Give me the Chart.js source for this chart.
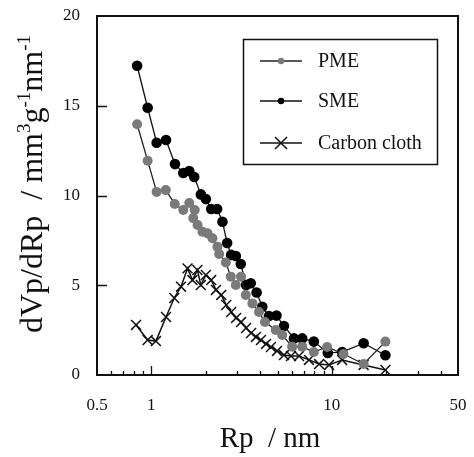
<!DOCTYPE html>
<html lang="en">
<head>
  <meta charset="UTF-8" />
  <title>Pore size distribution</title>
  <script src="https://cdn.jsdelivr.net/npm/chart.js"></script>
  <style>
    html, body { margin: 0; padding: 0; background: #fff; }
    #wrap { width: 474px; height: 457px; }
  </style>
</head>
<body>
<div id="wrap"><canvas id="psd"></canvas></div>

<script>
// values
const pmeRp = [0.834, 0.954, 1.07, 1.203, 1.348, 1.503, 1.622, 1.74, 1.707, 1.803, 1.92, 2.047, 2.18, 2.324, 2.376, 2.587, 2.756, 2.938, 3.14, 3.335, 3.63, 3.95, 4.26, 4.89, 5.31, 6.03, 6.85, 7.95, 9.42, 11.6, 15.0, 19.8];
const pmeVal = [13.97, 11.94, 10.2, 10.3, 9.53, 9.19, 9.58, 9.19, 8.74, 8.36, 7.98, 7.89, 7.62, 7.15, 6.74, 6.27, 5.48, 5.01, 5.48, 4.46, 3.99, 3.51, 2.95, 2.51, 2.23, 1.58, 1.58, 1.28, 1.56, 1.17, 0.61, 1.86];

const smeRp = [0.834, 0.954, 1.07, 1.206, 1.352, 1.503, 1.622, 1.728, 1.882, 2.005, 2.145, 2.315, 2.477, 2.63, 2.767, 2.938, 3.13, 3.35, 3.556, 3.83, 4.12, 4.486, 4.935, 5.43, 6.17, 6.85, 7.95, 9.5, 11.4, 15.0, 19.8];
const smeVal = [17.23, 14.89, 12.94, 13.09, 11.75, 11.25, 11.36, 11.03, 10.06, 9.8, 9.25, 9.25, 8.54, 7.35, 6.69, 6.63, 6.18, 5.01, 5.11, 4.6, 3.8, 3.29, 3.31, 2.73, 2.04, 2.04, 1.86, 1.23, 1.28, 1.77, 1.1];

const clothRp = [0.823, 0.954, 1.06, 1.206, 1.34, 1.46, 1.587, 1.69, 1.8, 1.88, 2.005, 2.145, 2.28, 2.44, 2.6, 2.77, 2.95, 3.14, 3.35, 3.57, 3.8, 4.05, 4.32, 4.6, 4.97, 5.43, 5.94, 6.58, 7.47, 8.5, 9.65, 11.4, 15.0, 19.8];
const clothVal = [2.79, 1.95, 1.89, 3.23, 4.29, 4.92, 5.94, 5.29, 5.85, 5.01, 5.57, 5.29, 4.74, 4.46, 3.9, 3.51, 3.18, 2.95, 2.62, 2.34, 2.12, 1.95, 1.73, 1.56, 1.34, 1.11, 1.06, 1.06, 0.84, 0.61, 0.56, 0.84, 0.56, 0.28];

const seriesNames = ['PME', 'SME', 'Carbon cloth'];
const xTickValues = [0.5, 1, 10, 50];
const xMinorValues = [0.6, 0.7, 0.8, 0.9, 2, 3, 4, 5, 6, 7, 8, 9, 20, 30, 40];
const yTickValues = [5, 10, 15];

const serif = "'Liberation Serif', 'Times New Roman', serif";
const pts = (xs, ys) => xs.map((x, i) => ({ x: x, y: ys[i] }));

// frame, inward ticks, axis titles and the boxed legend
const decor = {
  id: 'decor',
  afterDraw(chart) {
    const ctx = chart.ctx, a = chart.chartArea;
    const xs = chart.scales.x, ys = chart.scales.y;
    ctx.save();
    ctx.strokeStyle = '#111';
    ctx.lineWidth = 2;
    ctx.strokeRect(a.left, a.top, a.right - a.left, a.bottom - a.top);

    ctx.lineWidth = 1.3;
    ctx.beginPath();
    yTickValues.forEach(v => {
      const y = Math.round(ys.getPixelForValue(v)) + 0.5;
      ctx.moveTo(a.left, y); ctx.lineTo(a.left + 10, y);
    });
    [1, 10].forEach(v => {
      const x = Math.round(xs.getPixelForValue(v)) + 0.5;
      ctx.moveTo(x, a.bottom); ctx.lineTo(x, a.bottom - 9);
    });
    xMinorValues.forEach(v => {
      const x = Math.round(xs.getPixelForValue(v)) + 0.5;
      ctx.moveTo(x, a.bottom); ctx.lineTo(x, a.bottom - 4);
    });
    ctx.stroke();

    // x title
    ctx.fillStyle = '#111';
    ctx.font = '29px ' + serif;
    ctx.textAlign = 'center';
    ctx.textBaseline = 'alphabetic';
    ctx.fillText('Rp  / nm', 270, 447);

    // y title with superscripts
    ctx.translate(42, 184);
    ctx.rotate(-Math.PI / 2);
    const parts = [['dVp/dRp  / mm', 0], ['3', 1], ['g', 0], ['-1', 1], ['nm', 0], ['-1', 1]];
    const big = '32px ' + serif, small = '19px ' + serif;
    let w = 0;
    parts.forEach(p => { ctx.font = p[1] ? small : big; w += ctx.measureText(p[0]).width; });
    let cx = -w / 2;
    ctx.textAlign = 'left';
    parts.forEach(p => {
      ctx.font = p[1] ? small : big;
      ctx.fillText(p[0], cx, p[1] ? -12 : 0);
      cx += ctx.measureText(p[0]).width;
    });
    ctx.restore();

    // legend
    ctx.save();
    ctx.strokeStyle = '#111';
    ctx.lineWidth = 1.5;
    ctx.strokeRect(243.5, 39.5, 194, 125);
    const rows = [61, 101, 143];
    chart.data.datasets.forEach((ds, i) => {
      const y = rows[i];
      ctx.strokeStyle = ds.borderColor;
      ctx.lineWidth = 1.5;
      ctx.beginPath(); ctx.moveTo(260, y); ctx.lineTo(302, y); ctx.stroke();
      if (ds.pointStyle === 'crossRot') {
        ctx.beginPath();
        ctx.moveTo(275, y - 6); ctx.lineTo(287, y + 6);
        ctx.moveTo(287, y - 6); ctx.lineTo(275, y + 6);
        ctx.stroke();
      } else {
        ctx.fillStyle = ds.pointBackgroundColor;
        ctx.beginPath(); ctx.arc(281, y, 3.2, 0, Math.PI * 2); ctx.fill();
      }
      ctx.fillStyle = '#111';
      ctx.font = '20px ' + serif;
      ctx.textBaseline = 'middle';
      ctx.fillText(ds.label, 318, y + 1);
    });
    ctx.restore();
  }
};

new Chart(document.getElementById('psd'), {
  type: 'scatter',
  data: {
    datasets: [
      { label: seriesNames[0], data: pts(pmeRp, pmeVal), showLine: true, borderColor: '#222', borderWidth: 1.3,
        pointStyle: 'circle', pointRadius: 5, pointBackgroundColor: '#7a7a7a', pointBorderColor: '#7a7a7a', pointBorderWidth: 0 },
      { label: seriesNames[1], data: pts(smeRp, smeVal), showLine: true, borderColor: '#111', borderWidth: 1.3,
        pointStyle: 'circle', pointRadius: 5.3, pointBackgroundColor: '#000', pointBorderColor: '#000', pointBorderWidth: 0 },
      { label: seriesNames[2], data: pts(clothRp, clothVal), showLine: true, borderColor: '#111', borderWidth: 1.5,
        pointStyle: 'crossRot', pointRadius: 7, pointBorderColor: '#111', pointBorderWidth: 1.5, pointBackgroundColor: '#111' }
    ]
  },
  options: {
    responsive: true,
    maintainAspectRatio: false,
    animation: false,
    layout: { padding: { top: 16, right: 16, left: 0, bottom: 0 } },
    plugins: { legend: { display: false }, tooltip: { enabled: false } },
    scales: {
      x: {
        type: 'logarithmic',
        min: 0.5, max: 50,
        grid: { display: false },
        border: { display: false },
        afterBuildTicks: s => { s.ticks = xTickValues.map(v => ({ value: v })); },
        afterFit: s => { s.height = 82; s.paddingLeft = 0; s.paddingRight = 0; },
        ticks: { color: '#111', font: { family: serif, size: 17 }, padding: 12, maxRotation: 0, autoSkip: false,
          callback: v => String(v) }
      },
      y: {
        min: 0, max: 20,
        grid: { display: false },
        border: { display: false },
        afterFit: s => { s.width = 97; s.paddingTop = 0; s.paddingBottom = 0; },
        ticks: { stepSize: 5, color: '#111', font: { family: serif, size: 17 }, padding: 9 }
      }
    }
  },
  plugins: [decor]
});
</script>
</body>
</html>
